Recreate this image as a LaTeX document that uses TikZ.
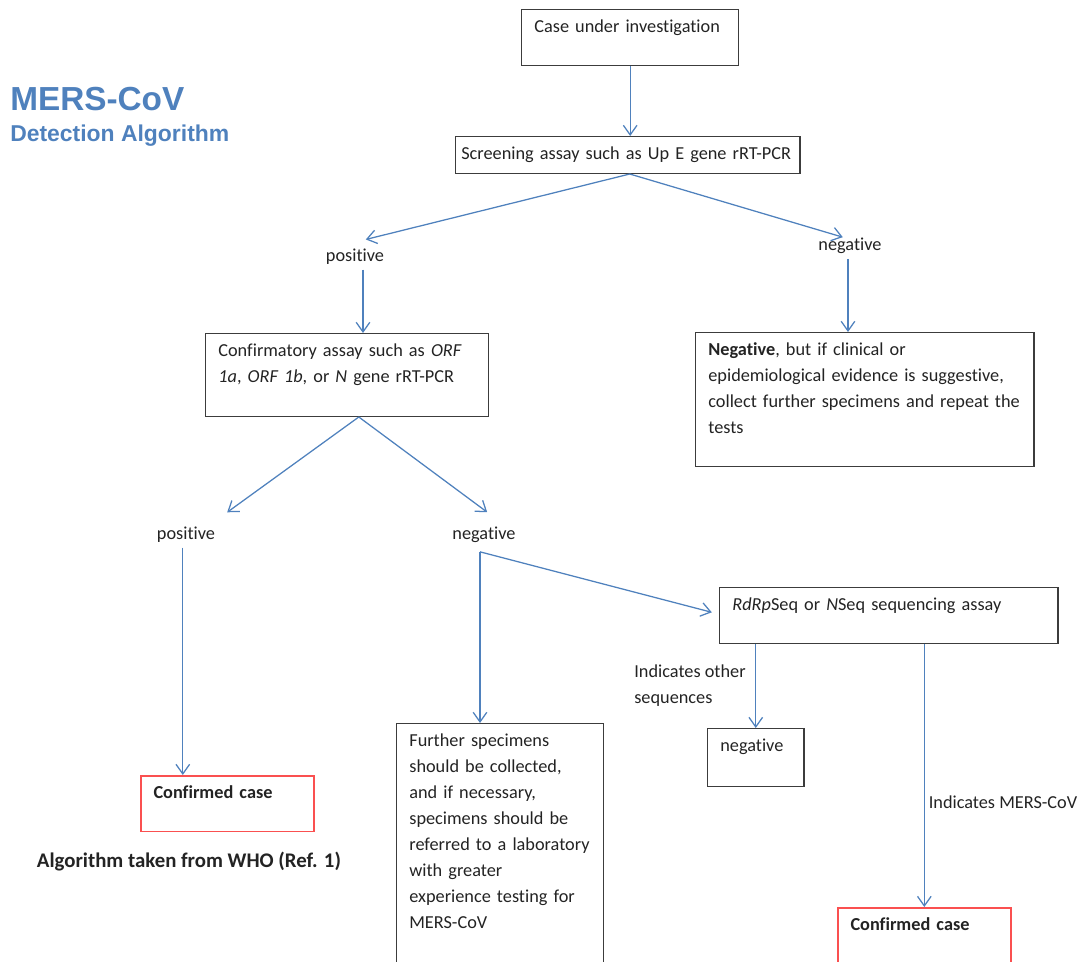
\documentclass[tikz,border=0pt]{standalone}
\usepackage{fontspec}
\setmainfont{Carlito}[Ligatures=NoCommon]
\newfontfamily\titlefont{Liberation Sans}
\usetikzlibrary{arrows.meta,calc}

\definecolor{flowblue}{RGB}{79,129,189}
\definecolor{boxgray}{RGB}{60,60,60}
\definecolor{confred}{RGB}{250,80,80}
\definecolor{inkgray}{RGB}{35,35,35}

\tikzset{
  box/.style={draw=boxgray, line width=1pt, anchor=north west, align=left,
    inner xsep=9pt, inner ysep=7pt, text=inkgray},
  redbox/.style={box, draw=confred, line width=1.2pt},
  lbl/.style={text=inkgray},
  arr/.style={->, draw=flowblue, line width=0.9pt},
}

\begin{document}
\begin{tikzpicture}[x=0.025cm, y=-0.025cm, >={Straight Barb[length=2.4mm,width=3.4mm]},
  font=\fontsize{13}{18.5}\selectfont]

  % 画布 (像素坐标)
  \useasboundingbox (0,0) rectangle (1088,962);
  \clip (0,0) rectangle (1088,962);

  % 标题
  \node[anchor=base west, inner sep=0, text=flowblue,
    font=\titlefont\bfseries\fontsize{23.7}{28}\selectfont] (title) at (10,110) {MERS-CoV};
  \node[anchor=base west, inner sep=0, text=flowblue,
    font=\titlefont\bfseries\fontsize{16.3}{20}\selectfont] (subtitle) at (10,141) {Detection Algorithm};

  % 方框
  \node[box, text width=4.79cm, text depth=16.5pt] (case) at (521,9) {Case under investigation};
  \node[box, inner xsep=4pt, text width=8.32cm, text depth=3pt] (screen) at (455,136)
    {\mbox{Screening assay such as Up E gene rRT-PCR}};
  \node[box, text width=6.44cm, text depth=35.7pt] (conf) at (205,333)
    {Confirmatory assay such as \textit{ORF}\\ \textit{1a}, \textit{ORF 1b}, or \textit{N} gene rRT-PCR};
  \node[box, text width=7.82cm, text depth=72pt] (negbox) at (695,332)
    {\textbf{Negative}, but if clinical or\\ epidemiological evidence is suggestive,\\
     \mbox{collect further specimens and repeat the}\\ tests};
  \node[box, text width=7.82cm, text depth=16.5pt] (rdrp) at (719,587)
    {\textit{RdRp}Seq or \textit{N}Seq sequencing assay};
  \node[box, text width=1.77cm, text depth=18pt] (negsmall) at (707,728) {negative};
  \node[box, text width=4.54cm, text depth=166pt] (further) at (396,723)
    {Further specimens\\ should be collected,\\ and if necessary,\\ specimens should be\\
     \mbox{referred to a laboratory}\\ with greater\\ experience testing for\\ MERS-CoV};
  \node[redbox, text width=3.69cm, text depth=16.5pt] (cc1) at (140,775) {\textbf{Confirmed case}};
  \node[redbox, text width=3.69cm, text depth=36pt] (cc2) at (837,907) {\textbf{Confirmed case}};

  % 分支标注
  \node[lbl] (pos1) at (355,257) {positive};
  \node[lbl] (neg1) at (850,246) {negative};
  \node[lbl] (pos2) at (186,535) {positive};
  \node[lbl] (neg2) at (484,535) {negative};
  \node[lbl, align=left] (othseq) at (690,686) {Indicates other\\ sequences};
  \node[lbl] (mersseq) at (1003,802) {Indicates MERS-CoV};
  \node[lbl, font=\fontsize{14.8}{18.5}\selectfont\bfseries] (whoref) at (189,862)
    {Algorithm taken from WHO (Ref. 1)};

  % 连线
  \draw[arr] (case.south) -- (case.south |- screen.north);
  \draw[arr] ([xshift=0.05cm]screen.south) -- ([xshift=0.27cm,yshift=0.12cm]pos1.north);
  \draw[arr] ([xshift=0.05cm]screen.south) -- ([xshift=-0.18cm,yshift=-0.1cm]neg1.north);
  \draw[arr] ([xshift=0.2cm]pos1.south) -- ([xshift=0.2cm]pos1.south |- conf.north);
  \draw[arr] ([xshift=-0.05cm]neg1.south) -- ([xshift=-0.05cm]neg1.south |- negbox.north);
  \draw[arr] ([xshift=0.29cm]conf.south) -- ([xshift=0.18cm,yshift=0.25cm]pos2.north east);
  \draw[arr] ([xshift=0.29cm]conf.south) -- ([xshift=0.08cm,yshift=0.25cm]neg2.north);
  \draw[arr] ([xshift=-0.08cm]pos2.south) -- ([xshift=-0.08cm]pos2.south |- cc1.north);
  \coordinate (split) at ($(neg2.south)+(-4,4)$);
  \draw[arr] (split) -- (split |- further.north);
  \draw[arr] (split) -- ([xshift=-0.18cm,yshift=0.08cm]rdrp.west);
  \draw[arr] (negsmall.north |- rdrp.south) -- (negsmall.north);
  \draw[arr] (cc2.north |- rdrp.south) -- (cc2.north);

\end{tikzpicture}
\end{document}
